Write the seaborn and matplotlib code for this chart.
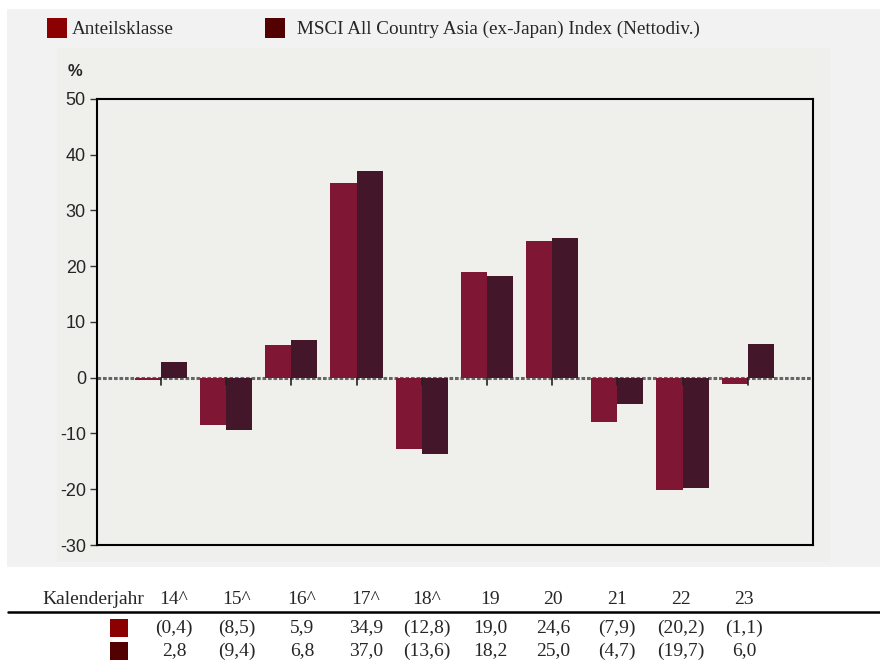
import matplotlib
matplotlib.use("Agg")
import matplotlib.pyplot as plt
import seaborn as sns
import pandas as pd
from matplotlib.patches import Rectangle
from matplotlib.lines import Line2D

years = ["14^", "15^", "16^", "17^", "18^", "19", "20", "21", "22", "23"]
fund = [-0.4, -8.5, 5.9, 34.9, -12.8, 19.0, 24.6, -7.9, -20.2, -1.1]
bench = [2.8, -9.4, 6.8, 37.0, -13.6, 18.2, 25.0, -4.7, -19.7, 6.0]
series_names = ["Anteilsklasse", "MSCI All Country Asia (ex-Japan) Index (Nettodiv.)"]
bar_colors = ["#7f1734", "#431729"]
key_colors = ["#8b0000", "#520000"]

df = pd.DataFrame({
    "year": years * 2,
    "value": fund + bench,
    "series": [series_names[0]] * len(years) + [series_names[1]] * len(years),
})


def fmt(v):
    s = f"{abs(v):.1f}".replace(".", ",")
    return f"({s})" if v < 0 else s


serif = ["Liberation Serif", "DejaVu Serif"]
narrow = ["Liberation Sans Narrow", "Liberation Sans", "DejaVu Sans"]

sns.set_style("white")
fig = plt.figure(figsize=(8.8, 6.61), dpi=100)
fig.patch.set_facecolor("white")

W, H = 880, 661
# outer and inner grey panels
fig.add_artist(Rectangle((7 / W, 1 - 567 / H), 873 / W, 558 / H, transform=fig.transFigure,
                         facecolor="#f2f2f2", edgecolor="none", zorder=0))
fig.add_artist(Rectangle((57 / W, 1 - 562 / H), 773 / W, 514 / H, transform=fig.transFigure,
                         facecolor="#efefeb", edgecolor="none", zorder=0))

ax = fig.add_axes([97 / W, 1 - 545 / H, 716 / W, 446 / H])
ax.set_facecolor("#efefeb")
sns.barplot(data=df, x="year", y="value", hue="series", palette=bar_colors,
            width=0.8, saturation=1, legend=False, ax=ax, zorder=3, linewidth=0, edgecolor="none")

ax.set_xlim(-0.98, 10.0)
ax.set_ylim(-30, 50)
ax.set_yticks(range(-30, 51, 10))
ax.set_yticklabels([str(v) for v in range(-30, 51, 10)], fontfamily=narrow, fontsize=13)
ax.tick_params(axis="y", length=5, width=1, color="#333333", pad=3, left=True)
ax.set_xticks([])
ax.set_xlabel("")
ax.set_ylabel("")
for sp in ax.spines.values():
    sp.set_visible(True)
    sp.set_color("black")
    sp.set_linewidth(1.5)

ax.axhline(0, color="#666666", lw=2.2, linestyle=(0, (1.2, 0.6)), zorder=2.5)
for i in range(len(years)):
    ax.plot([i, i], [0, -1.3], color="#222222", lw=1.2, zorder=4)

fig.text(68 / W, 1 - 72 / H, "%", fontfamily=narrow, fontsize=12, fontweight="bold", va="center")

# legend
lx = [47, 265]
tx = [72, 297]
for c, x0, x1, name in zip(key_colors, lx, tx, series_names):
    fig.add_artist(Rectangle((x0 / W, 1 - 38 / H), 20 / W, 20 / H, transform=fig.transFigure,
                             facecolor=c, edgecolor="none"))
    fig.text(x1 / W, 1 - 29 / H, name, fontfamily=serif, fontsize=13.8, va="center")

# table
col_x = [174, 237, 302, 366, 427, 490, 553, 617, 681, 744]
fig.text(42 / W, 1 - 600 / H, "Kalenderjahr", fontfamily=serif, fontsize=14, va="center")
for x, y in zip(col_x, years):
    fig.text(x / W, 1 - 600 / H, y, fontfamily=serif, fontsize=14, va="center", ha="center")
fig.add_artist(Line2D([8 / W, 1], [1 - 612 / H, 1 - 612 / H], transform=fig.transFigure,
                      color="black", lw=1.8))
for row, (vals, c) in enumerate(zip([fund, bench], key_colors)):
    yc = [628, 651][row]
    fig.add_artist(Rectangle((110 / W, 1 - (yc + 9) / H), 18 / W, 18 / H, transform=fig.transFigure,
                             facecolor=c, edgecolor="none"))
    for x, v in zip(col_x, vals):
        fig.text(x / W, 1 - yc / H, fmt(v), fontfamily=serif, fontsize=14, va="center", ha="center")

fig.savefig("out.png", dpi=100)
